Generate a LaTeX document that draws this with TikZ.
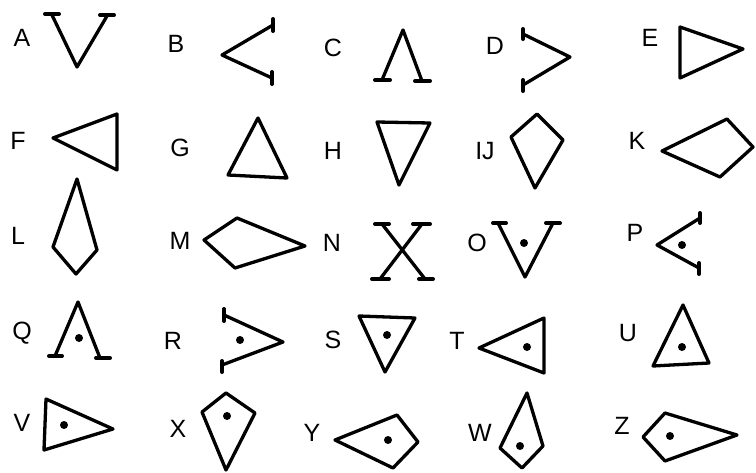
\documentclass[tikz,border=0pt]{standalone}
\usepackage{fontspec}
\setmainfont{Liberation Sans}
\begin{document}
\begin{tikzpicture}[x=1pt,y=-1pt,
  lbl/.style={font=\fontsize{25}{25}\selectfont, inner sep=0pt, anchor=base},
  shp/.style={draw, line width=3.3pt, line join=round, line cap=round},
  bar/.style={draw, line width=4pt, line cap=round}]
\useasboundingbox[fill=white] (0,0) rectangle (756,472);
% labels (base line = centre + 9)
\foreach \t/\x/\y in {A/22/46, B/176/52, C/333/56, D/495/54, E/650/46,
  F/18/149, G/180/156, H/333/159, IJ/485/159, K/637/149,
  L/18/244, M/180/249, N/332/251, O/477/251, P/635/241,
  Q/22/339, R/173/349, S/333/348, T/457/349, U/628/341,
  V/22/431, X/178/437, Y/312/441, W/480/441, Z/622/434}
  \node[lbl] (lab\t) at (\x,\y) {\t};
% A
\draw[shp] (52,15) -- (77,67) -- (107,16);
\draw[bar] (45,14) -- (59,14); \draw[bar] (100,15) -- (114,15);
% B
\draw[shp] (273,25) -- (222,55) -- (272,78);
\draw[bar] (273,19) -- (273,31); \draw[bar] (272,72) -- (272,84);
% C
\draw[shp] (382,80) -- (403,30) -- (422,81);
\draw[bar] (375,80) -- (390,80); \draw[bar] (415,81) -- (430,81);
% D
\draw[shp] (523,34) -- (570,57) -- (523,85);
\draw[bar] (523,29) -- (523,39); \draw[bar] (523,80) -- (523,91);
% E
\draw[shp] (680,27) -- (743,49) -- (680,78) -- cycle;
% F
\draw[shp] (53,138) -- (117,114) -- (117,170) -- cycle;
% G
\draw[shp] (258,118) -- (287,178) -- (228,175) -- cycle;
% H
\draw[shp] (377,122) -- (430,123) -- (399,185) -- cycle;
% IJ
\draw[shp] (537,114) -- (563,140) -- (535,188) -- (511,137) -- cycle;
% K
\draw[shp] (662,151) -- (727,119) -- (753,147) -- (720,177) -- cycle;
% L
\draw[shp] (77,179) -- (97,250) -- (76,274) -- (53,247) -- cycle;
% M
\draw[shp] (204,240) -- (237,218) -- (305,246) -- (235,268) -- cycle;
% N
\draw[shp] (382,224) -- (425,279); \draw[shp] (422,224) -- (380,279);
\draw[bar] (375,224) -- (389,224); \draw[bar] (413,224) -- (430,224);
\draw[bar] (372,279) -- (389,279); \draw[bar] (419,279) -- (433,279);
% O
\draw[shp] (498,223) -- (525,277) -- (553,223);
\draw[bar] (493,223) -- (506,223); \draw[bar] (546,223) -- (560,223);
\fill (524,243) circle (4pt);
% P
\draw[shp] (700,218) -- (657,245) -- (699,268);
\draw[bar] (700,213) -- (700,223); \draw[bar] (699,263) -- (699,274);
\fill (682,245) circle (4pt);
% Q
\draw[shp] (55,356) -- (78,302) -- (100,358);
\draw[bar] (49,356) -- (62,356); \draw[bar] (96,358) -- (110,358);
\fill (79,338) circle (4pt);
% R
\draw[shp] (224,315) -- (283,342) -- (222,365);
\draw[bar] (224,309) -- (224,321); \draw[bar] (222,361) -- (222,372);
\fill (240,340) circle (4pt);
% S
\draw[shp] (359,316) -- (415,318) -- (385,372) -- cycle;
\fill (387,335) circle (4pt);
% T
\draw[shp] (479,348) -- (544,318) -- (544,373) -- cycle;
\fill (527,347) circle (4pt);
% U
\draw[shp] (683,305) -- (709,363) -- (653,366) -- cycle;
\fill (682,347) circle (4pt);
% V
\draw[shp] (46,399) -- (113,429) -- (44,450) -- cycle;
\fill (64,425) circle (4pt);
% X
\draw[shp] (226,393) -- (255,413) -- (226,470) -- (202,412) -- cycle;
\fill (227,416) circle (4pt);
% Y
\draw[shp] (335,440) -- (397,415) -- (418,442) -- (393,468) -- cycle;
\fill (388,440) circle (4pt);
% W
\draw[shp] (527,393) -- (543,446) -- (522,468) -- (500,448) -- cycle;
\fill (520,446) circle (4pt);
% Z
\draw[shp] (643,437) -- (665,413) -- (737,435) -- (665,461) -- cycle;
\fill (670,436) circle (4pt);
\end{tikzpicture}
\end{document}
